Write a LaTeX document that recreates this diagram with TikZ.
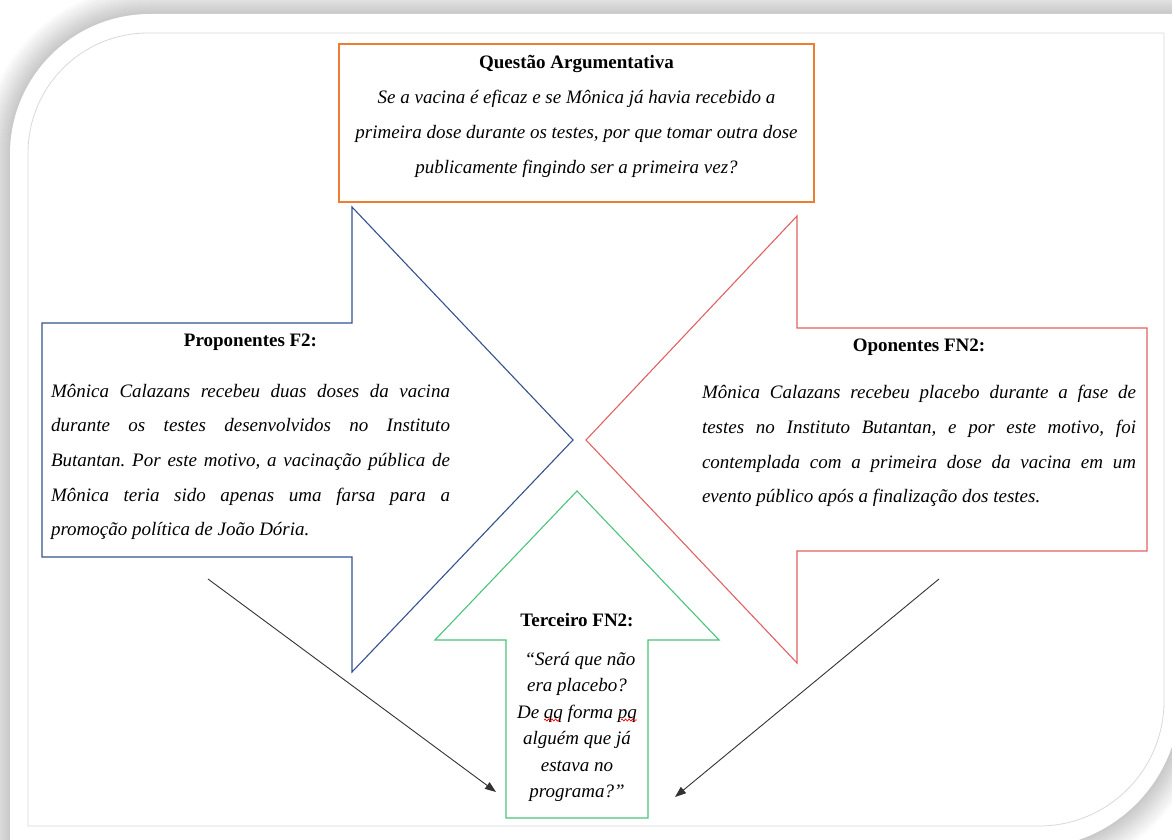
\documentclass[tikz,border=0pt]{standalone}
\usepackage{fontspec}
\setmainfont{Liberation Serif}
\usetikzlibrary{arrows.meta,decorations.pathmorphing}
\definecolor{qorange}{HTML}{ED7D31}
\definecolor{pblue}{HTML}{34528F}
\definecolor{ored}{HTML}{E06262}
\definecolor{tgreen}{HTML}{4CC37D}
\definecolor{framegray}{HTML}{D9D9D9}
\definecolor{linkgray}{HTML}{333333}
\newcommand{\jline}[2]{\makebox[#1][s]{#2}}
\frenchspacing
\begin{document}
\begin{tikzpicture}[x=1pt,y=-1pt,
  txt/.style={inner sep=0pt, font=\fontsize{19}{23}\selectfont},
  head/.style={txt, font=\fontsize{19}{23}\selectfont\bfseries},
  qbox/.style={draw=qorange, line width=1.1pt, minimum width=475pt, minimum height=158pt, inner sep=0pt},
  argshape/.style={line width=1.1pt, line join=miter},
  link/.style={draw=linkgray, line width=0.9pt, -{Triangle[length=11pt,width=8pt]}},
  squiggle/.style={draw=red, line width=0.7pt, decorate, decoration={snake, amplitude=1pt, segment length=3.5pt}}
]
\useasboundingbox (0,0) rectangle (1172,840);
\clip (0,0) rectangle (1172,840);
\fill[white] (0,0) rectangle (1172,840);
% soft shadow of the page frame
\foreach \d in {28,27,...,1}{
  \pgfmathsetmacro\L{10-\d}
  \pgfmathsetmacro\T{14-\d}
  \pgfmathsetmacro\Ra{140+\d}
  \pgfmathsetmacro\Rr{1180+\d}
  \pgfmathsetmacro\B{848+\d}
  \pgfmathsetmacro\Rb{150+\d}
  \pgfmathsetmacro\g{22*(1-\d/29)}
  \fill[black!\g] (\L,\T+\Ra) .. controls (\L,\T+0.448*\Ra) and (\L+0.448*\Ra,\T) .. (\L+\Ra,\T) -- (\Rr,\T) -- (\Rr,\B-\Rb) .. controls (\Rr,\B-0.448*\Rb) and (\Rr-0.448*\Rb,\B) .. (\Rr-\Rb,\B) -- (\L,\B) -- cycle;
}
\fill[white] (10,154) .. controls (10,76.7) and (72.7,14) .. (150,14) -- (1180,14) -- (1180,698) .. controls (1180,780.8) and (1112.8,848) .. (1030,848) -- (10,848) -- cycle;
% inner frame line
\draw[framegray, line width=0.8pt] (28,153) .. controls (28,86.7) and (81.7,33) .. (148,33) -- (1164,33) -- (1164,701) .. controls (1164,770) and (1108,826) .. (1039,826) -- (28,826) -- cycle;

% question box
\node[qbox] (qbox) at (576.5,123) {};
\node[txt, align=center, font=\fontsize{19}{35}\selectfont] (qtext) at (576.5,116)
  {\textbf{Questão Argumentativa}\\
   \itshape Se a vacina é eficaz e se Mônica já havia recebido a\\
   \itshape primeira dose durante os testes, por que tomar outra dose\\
   \itshape publicamente fingindo ser a primeira vez?};

% proponent arrow (blue, pointing right)
\draw[argshape, pblue] (42,323) -- (352,323) -- (352,207) -- (573,440) -- (352,672) -- (352,557) -- (42,557) -- cycle;
% opponent arrow (red, pointing left)
\draw[argshape, ored] (1147,328) -- (797,328) -- (797,216) -- (586,440) -- (797,663) -- (797,551) -- (1147,551) -- cycle;
% third party arrow (green, pointing up)
\draw[argshape, tgreen] (577,491) -- (719,640) -- (648,640) -- (648,818) -- (506,818) -- (506,640) -- (435,640) -- cycle;

% proponent text
\node[head] (phead) at (250.5,342) {Proponentes F2:};
\node[txt, align=left, font=\fontsize{19}{34.6}\selectfont\itshape] (ptext) at (250.5,462)
  {\jline{399pt}{Mônica Calazans recebeu duas doses da vacina}\\
   \jline{399pt}{durante os testes desenvolvidos no Instituto}\\
   \jline{399pt}{Butantan. Por este motivo, a vacinação pública de}\\
   \jline{399pt}{Mônica teria sido apenas uma farsa para a}\\
   \makebox[399pt][l]{promoção política de João Dória.}};

% opponent text
\node[head] (ohead) at (919,347) {Oponentes FN2:};
\node[txt, align=left, font=\fontsize{19}{34.7}\selectfont\itshape] (otext) at (919,446)
  {\jline{434pt}{Mônica Calazans recebeu placebo durante a fase de}\\
   \jline{434pt}{testes no Instituto Butantan, e por este motivo, foi}\\
   \jline{434pt}{contemplada com a primeira dose da vacina em um}\\
   \makebox[434pt][l]{evento público após a finalização dos testes.}};

% third party text
\node[head] (thead) at (577,620) {Terceiro FN2:};
\node[txt, align=center, font=\fontsize{19}{26.4}\selectfont\itshape] (ttext) at (577,727)
  {\hspace*{6pt}“Será que não\\ era placebo?\\ De qq forma pq\\ alguém que já\\ estava no\\ programa?”};
\draw[squiggle] (544,720) -- (560,720);
\draw[squiggle] (621,720) -- (637,720);

% connectors
\coordinate (la) at (208,579);
\coordinate (lb) at (496,792);
\coordinate (ra) at (939,579);
\coordinate (rb) at (675,797);
\draw[link] (la) -- (lb);
\draw[link] (ra) -- (rb);
\end{tikzpicture}
\end{document}
